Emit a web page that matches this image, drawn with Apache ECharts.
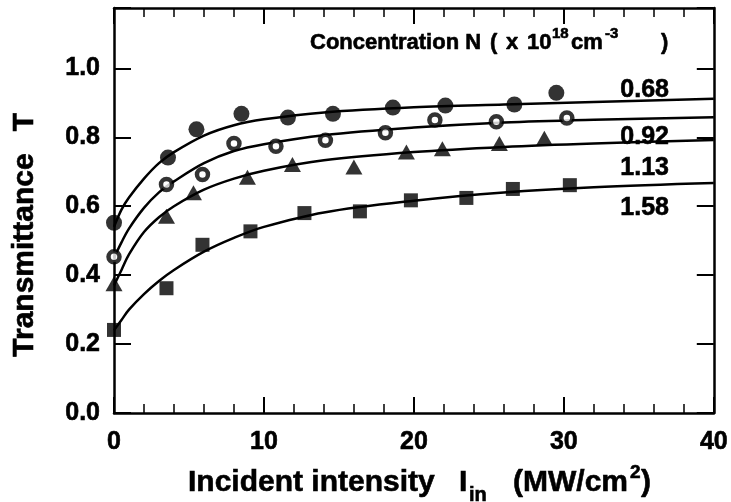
<!DOCTYPE html>
<html><head><meta charset="utf-8">
<script src="https://cdn.jsdelivr.net/npm/echarts@6/dist/echarts.min.js"></script>
<style>html,body{margin:0;padding:0;background:#fff}#c{width:731px;height:502px}</style>
</head><body><div id="c"></div><script>
// ---- data ----
const concLabels = ['0.68', '0.92', '1.13', '1.58'];

// measured points
const ptsX068 = [0, 3.6, 5.5, 8.5, 11.6, 14.6, 18.6, 22.1, 26.7, 29.5];
const ptsY068 = [0.552, 0.741, 0.823, 0.868, 0.857, 0.868, 0.886, 0.892, 0.895, 0.929];
const ptsX092 = [0, 3.5, 5.9, 8.0, 10.8, 14.1, 18.1, 21.4, 25.5, 30.2];
const ptsY092 = [0.453, 0.663, 0.692, 0.782, 0.774, 0.791, 0.813, 0.850, 0.845, 0.856];
const ptsX113 = [0, 3.5, 5.3, 8.9, 11.9, 16.0, 19.5, 21.9, 25.7, 28.7];
const ptsY113 = [0.375, 0.571, 0.639, 0.684, 0.721, 0.714, 0.757, 0.767, 0.782, 0.797];
const ptsX158 = [0, 3.5, 5.9, 9.1, 12.7, 16.4, 19.8, 23.5, 26.6, 30.4];
const ptsY158 = [0.241, 0.362, 0.488, 0.527, 0.580, 0.585, 0.617, 0.624, 0.650, 0.661];

const fitX = [0, 0.5, 1, 2, 3, 4, 6, 8, 10, 14, 20, 26, 32, 40];
const fitY068 = [0.54, 0.59, 0.625, 0.68, 0.725, 0.757, 0.805, 0.835, 0.852, 0.872, 0.887, 0.895, 0.902, 0.912];
const fitY092 = [0.45, 0.495, 0.535, 0.595, 0.64, 0.672, 0.725, 0.76, 0.78, 0.806, 0.828, 0.843, 0.851, 0.858];
const fitY113 = [0.37, 0.415, 0.46, 0.525, 0.568, 0.6, 0.648, 0.68, 0.703, 0.733, 0.757, 0.772, 0.782, 0.792];
const fitY158 = [0.24, 0.27, 0.30, 0.345, 0.383, 0.415, 0.468, 0.508, 0.54, 0.582, 0.616, 0.64, 0.655, 0.667];

const xMin = 0, xMax = 40, xStep = 10;
const yMin = 0, yMax = 1.175, yStep = 0.2;

// ---- build ----
const FF = '"Liberation Sans", Arial, Helvetica, sans-serif';
const zip = (a, b) => a.map((v, i) => [v, b[i]]);
const chart = echarts.init(document.getElementById('c'), null, {renderer: 'canvas'});

const axisLineStyle = {color: '#000', width: 2.5};
const lblBase = {color: '#000', fontSize: 25, fontWeight: 'bold', fontFamily: FF, textBorderColor: '#000', textBorderWidth: 0.6};
function xAx(pos, showLabel) {
  return {
    type: 'value', position: pos, min: xMin, max: xMax, interval: xStep,
    axisLine: {show: true, onZero: false, lineStyle: axisLineStyle},
    axisTick: {show: true, inside: true, length: 16, lineStyle: {color: '#000', width: 2}},
    minorTick: {show: true, splitNumber: 5, length: 9, lineStyle: {color: '#000', width: 1.5}},
    splitLine: {show: false}, minorSplitLine: {show: false},
    axisLabel: Object.assign({show: showLabel, margin: 17}, lblBase)
  };
}
function yAx(pos, showLabel) {
  return {
    type: 'value', position: pos, min: yMin, max: yMax, interval: yStep,
    axisLine: {show: true, onZero: false, lineStyle: axisLineStyle},
    axisTick: {show: true, inside: true, length: 17, lineStyle: {color: '#000', width: 2}},
    splitLine: {show: false},
    axisLabel: Object.assign({show: showLabel, margin: 14,
      formatter: v => Math.abs(v / yStep - Math.round(v / yStep)) < 1e-6 ? v.toFixed(1) : ''}, lblBase)
  };
}

const fits = [fitY068, fitY092, fitY113, fitY158];
const pts = [[ptsX068, ptsY068], [ptsX092, ptsY092], [ptsX113, ptsY113], [ptsX158, ptsY158]];
const symbols = [
  {symbol: 'circle', symbolSize: 16, itemStyle: {color: '#000'}},
  {symbol: 'circle', symbolSize: 11, itemStyle: {color: '#fff', borderColor: '#000', borderWidth: 4.5}},
  {symbol: 'triangle', symbolSize: [17, 15], itemStyle: {color: '#000'}},
  {symbol: 'rect', symbolSize: 14, itemStyle: {color: '#000'}}
];

const series = [];
fits.forEach((f, i) => {
  series.push({type: 'line', data: zip(fitX, f), smooth: 0.35, showSymbol: false, symbol: 'none',
    lineStyle: {color: '#000', width: 2.5}, z: 2, silent: true, animation: false});
});
pts.forEach((p, i) => {
  series.push(Object.assign({type: 'scatter', data: zip(p[0], p[1]), z: 3, animation: false}, symbols[i]));
});

function txt(t, x, y, size, align, rot) {
  const el = {type: 'text', x: x, y: y,
    style: {text: t, font: 'bold ' + size + 'px ' + FF, fill: '#000', stroke: '#000', lineWidth: 0.6,
      align: align, verticalAlign: 'middle', textAlign: align, textVerticalAlign: 'middle'}};
  if (rot) el.rotation = rot;
  return el;
}

const labelY = [90, 137, 168, 208];
const graphic = [
  txt('Transmittance', 25, 255, 30, 'center', Math.PI / 2),
  txt('T', 25, 122, 30, 'center', Math.PI / 2),
  txt('Incident intensity', 188, 483, 30, 'left'),
  txt('I', 459, 483, 30, 'left'),
  txt('in', 469, 495, 20, 'left'),
  txt('(MW/cm', 513, 483, 30, 'left'),
  txt('2', 630, 473, 19, 'left'),
  txt(')', 641, 483, 30, 'left'),
  // concentration heading
  txt('Concentration N', 310, 43, 22, 'left'),
  txt('(', 490, 43, 22, 'left'),
  txt('x', 506, 43, 22, 'left'),
  txt('10', 527, 43, 22, 'left'),
  txt('18', 552, 34, 15, 'left'),
  txt('cm', 571, 43, 22, 'left'),
  txt('-3', 605, 34, 15, 'left'),
  txt(')', 661, 43, 22, 'left')
];
concLabels.forEach((t, i) => graphic.push(txt(t, 669, labelY[i], 25, 'right')));

chart.setOption({
  animation: false,
  backgroundColor: '#fff',
  grid: {left: 114, right: 12, top: 8, bottom: 89, containLabel: false},
  xAxis: [xAx('bottom', true), xAx('top', false)],
  yAxis: [yAx('left', true), yAx('right', false)],
  series: series,
  graphic: graphic
});
</script></body></html>
